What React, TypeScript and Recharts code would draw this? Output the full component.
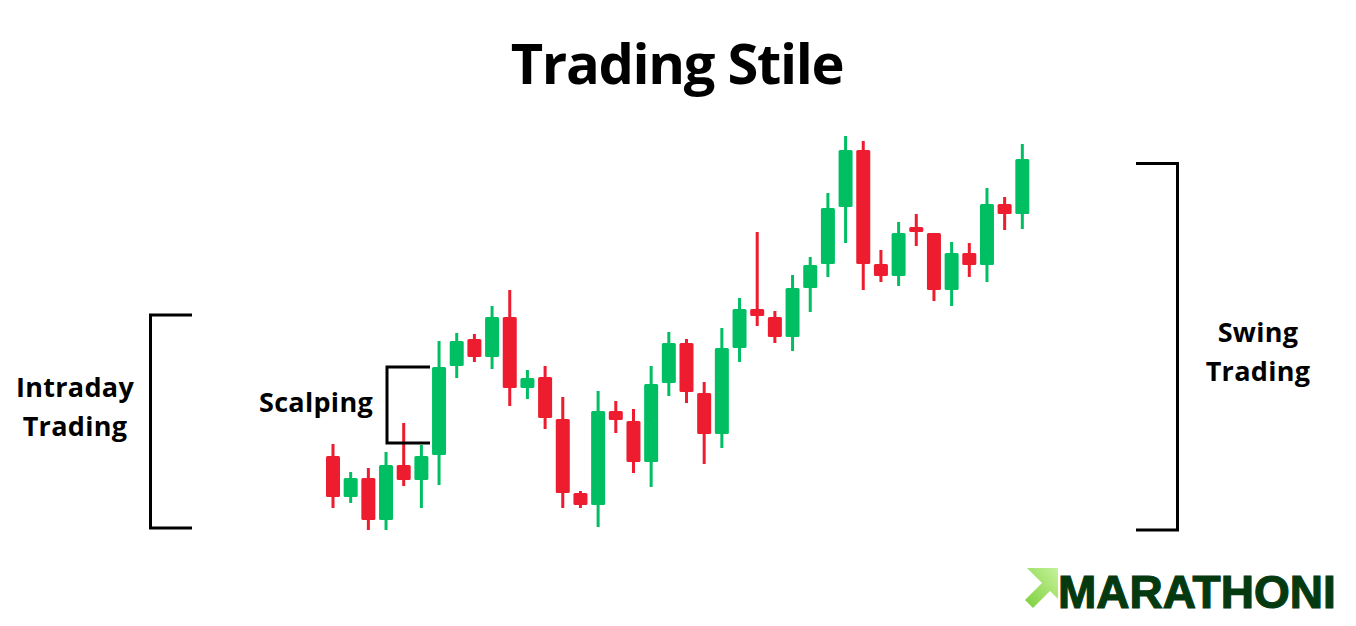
import React from 'react';
import { ComposedChart, Bar, XAxis, YAxis } from 'recharts';

const days = Array.from({ length: 40 }, (_, i) => `D${i + 1}`);
const opens = [170, 129, 148, 106, 161, 146, 171, 260, 287, 269, 309, 238, 249, 207, 133, 121, 215, 205, 164, 243, 283, 233, 192, 278, 317, 309, 289, 338, 362, 419, 476, 362, 350, 399, 393, 336, 373, 361, 422, 412];
const closes = [129, 148, 106, 161, 146, 170, 259, 285, 269, 309, 238, 248, 208, 133, 121, 215, 206, 164, 242, 283, 234, 192, 278, 317, 310, 289, 338, 361, 418, 476, 362, 350, 393, 394, 336, 373, 361, 422, 412, 467];
const highs = [182, 154, 158, 174, 203, 181, 285, 293, 292, 320, 336, 256, 260, 229, 135, 235, 225, 217, 260, 294, 287, 244, 298, 328, 394, 315, 351, 369, 433, 490, 485, 376, 404, 412, 393, 384, 383, 438, 429, 482];
const lows = [118, 123, 96, 96, 140, 118, 141, 248, 264, 257, 220, 227, 197, 118, 118, 99, 193, 153, 139, 230, 223, 162, 178, 264, 300, 283, 275, 314, 349, 383, 336, 344, 340, 380, 325, 320, 349, 344, 396, 397];

const GREEN = '#00bf63';
const RED = '#ed1c2e';

const data = days.map((d, i) => ({
  day: d,
  open: opens[i],
  close: closes[i],
  high: highs[i],
  low: lows[i],
  range: [lows[i], highs[i]],
}));

const Candle = (props: any) => {
  const { x, y, width, height, payload } = props;
  if (x == null || y == null || !payload) return null;
  const top = Math.min(y, y + height);
  const h = Math.abs(height);
  const span = payload.high - payload.low;
  const k = span > 0 ? h / span : 0;
  const cx = x + width / 2;
  const up = payload.close >= payload.open;
  const color = up ? GREEN : RED;
  const bodyTop = top + (payload.high - Math.max(payload.open, payload.close)) * k;
  const bodyBot = top + (payload.high - Math.min(payload.open, payload.close)) * k;
  return (
    <g>
      <rect x={cx - 1.5} y={top} width={3} height={h} fill={color} />
      <rect x={x} y={bodyTop} width={width} height={Math.max(bodyBot - bodyTop, 2)} rx={1.5} fill={color} />
    </g>
  );
};

const FONT = '"Open Sans", "DejaVu Sans", sans-serif';

export default function App() {
  const label = { textAnchor: 'middle' as const, fontFamily: FONT, fontWeight: 700, fontSize: 27, fill: '#000', letterSpacing: 0.3 };
  return (
    <div style={{ position: 'absolute', left: 0, top: 0, width: 1356, height: 626, background: '#fff' }}>
      <ComposedChart
        width={1356}
        height={626}
        data={data}
        margin={{ top: 0, right: 325, bottom: 0, left: 324 }}
      >
        <XAxis dataKey="day" hide />
        <YAxis hide domain={[0, 626]} allowDataOverflow />
        <Bar dataKey="range" barSize={14} shape={<Candle />} isAnimationActive={false} />
      </ComposedChart>
      <svg width={1356} height={626} style={{ position: 'absolute', left: 0, top: 0 }}>
        <defs>
          <linearGradient id="arrowGrad" x1="0" y1="1" x2="1" y2="0">
            <stop offset="0%" stopColor="#7ccf3c" />
            <stop offset="100%" stopColor="#c6f29a" />
          </linearGradient>
        </defs>
        <text x={677} y={84} textAnchor="middle" fontFamily={FONT} fontWeight={700} fontSize={56} letterSpacing={-1.3} fill="#000">Trading Stile</text>
        <text x={75} y={397} {...label}>Intraday</text>
        <text x={75} y={436} {...label}>Trading</text>
        <text x={316} y={412} {...label}>Scalping</text>
        <text x={1258} y={342} {...label}>Swing</text>
        <text x={1258} y={381} {...label}>Trading</text>
        <polyline points="192,315 150.5,315 150.5,528 192,528" fill="none" stroke="#000" strokeWidth={3} />
        <polyline points="430,367 387,367 387,443 430,443" fill="none" stroke="#000" strokeWidth={3} />
        <polyline points="1136,163.5 1177.5,163.5 1177.5,530 1136,530" fill="none" stroke="#000" strokeWidth={3} />
        <polygon points="1027,575 1058,575 1058,606 1050,598 1033,615 1025,607 1042,590 1034,582" fill="url(#arrowGrad)" transform="translate(0,-7)" />
        <text x={1058} y={608} fontFamily='"Liberation Sans", Arial, sans-serif' fontWeight={700} fontSize={46} fill="#053a10" stroke="#053a10" strokeWidth={1.2}>MARATHONI</text>
      </svg>
    </div>
  );
}
